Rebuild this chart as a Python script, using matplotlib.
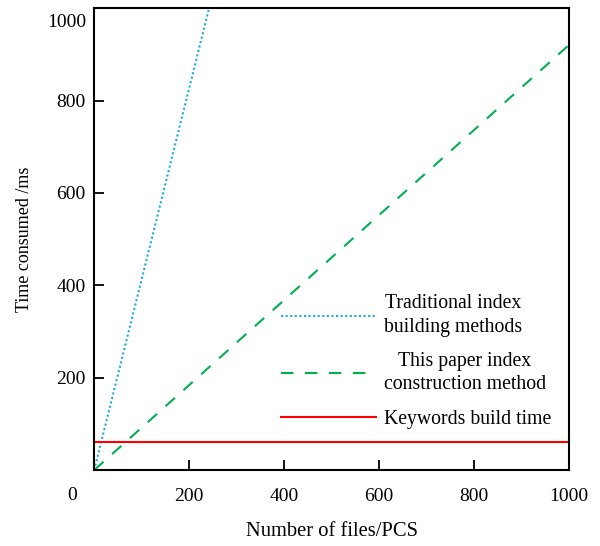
import matplotlib
matplotlib.use("Agg")
import matplotlib.pyplot as plt
import matplotlib.transforms as mtransforms

plt.rcParams['font.family'] = ['Liberation Serif', 'DejaVu Serif']

# data
trad_x = [0, 250]
trad_y = [0, 1033]
ours_x = [0, 1000]
ours_y = [0, 920]
kw_x = [0, 1000]
kw_y = [60, 60]
ticks = [200, 400, 600, 800, 1000]

fig = plt.figure(figsize=(6, 5.46), dpi=100)
ax = fig.add_axes([0.157, 0.139, 0.791, 0.846])

ax.plot(trad_x, trad_y, color='#1aa9e6', lw=1.5, linestyle=(0, (1, 1.2)),
        label='Traditional index\nbuilding methods')
ax.plot(ours_x, ours_y, color='#00b050', lw=1.5, linestyle=(0, (6, 5.5)),
        label='This paper index\nconstruction method')
ax.plot(kw_x, kw_y, color='#ff0000', lw=1.5, label='Keywords build time')

ax.set_xlim(0, 1000)
ax.set_ylim(0, 1000)
ax.set_xticks(ticks)
ax.set_yticks(ticks)
ax.tick_params(direction='in', length=7, width=1.3, labelsize=14)
ax.tick_params(axis='x', pad=13)
ax.tick_params(axis='y', pad=6)
for s in ax.spines.values():
    s.set_linewidth(1.5)

# top y label sits a bit lower than its tick
top_lab = ax.get_yticklabels()[-1]
top_lab.set_transform(top_lab.get_transform() +
                      mtransforms.ScaledTranslation(0, -12 / 100, fig.dpi_scale_trans))

ax.annotate('0', xy=(0, 0), xytext=(-16, -18), textcoords='offset points',
            ha='center', va='center', fontsize=14)

ax.set_xlabel('Number of files/PCS', fontsize=14.8, labelpad=12)
ax.set_ylabel('Time consumed /ms', fontsize=13, labelpad=10)

leg = ax.legend(loc='lower right', bbox_to_anchor=(1.0, 0.05), frameon=False,
                fontsize=14.2, handlelength=4.8, handletextpad=0.4,
                labelspacing=0.8)
for t in leg.get_texts():
    t.set_multialignment('center')
    t.set_linespacing(1.3)

fig.savefig('out.png', dpi=100)
